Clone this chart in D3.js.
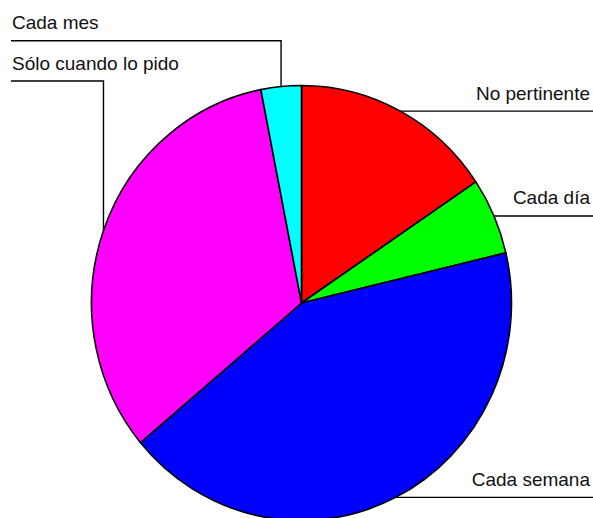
<!DOCTYPE html>
<html>
<head>
<meta charset="utf-8">
<script src="https://cdn.jsdelivr.net/npm/d3@7"></script>
<style>
  html, body { margin: 0; padding: 0; background: #fff; }
  svg { display: block; }
  text { font-family: "Liberation Sans", Arial, Helvetica, sans-serif; font-size: 19px; fill: #111; }
</style>
</head>
<body>
<svg id="chart" width="593" height="518"></svg>
<script>
const categories = ["No pertinente", "Cada día", "Cada semana", "Sólo cuando lo pido", "Cada mes"];
const values = [15.6, 5.7, 42.6, 33.0, 3.1];
const colors = ["#ff0000", "#00ff00", "#0000ff", "#ff00ff", "#00ffff"];

const W = 593, H = 518;
const cx = 301.5, cy = 303, rx = 210, ry = 217.5;

const svg = d3.select("#chart");
const data = categories.map((c, i) => ({ label: c, value: values[i], color: colors[i] }));

const pie = d3.pie().sort(null).value(d => d.value);
const arcs = pie(data);
const arc = d3.arc().innerRadius(0).outerRadius(rx);

const g = svg.append("g")
  .attr("transform", `translate(${cx},${cy}) scale(1,${ry / rx})`);

g.selectAll("path")
  .data(arcs)
  .enter().append("path")
  .attr("d", arc)
  .attr("fill", d => d.data.color)
  .attr("stroke", "#000")
  .attr("stroke-width", 1.6)
  .attr("stroke-linejoin", "round")
  .attr("vector-effect", "non-scaling-stroke");

// leader lines and labels
const rightX = W, leftX = 11, textRight = 590, textLeft = 12;
const leftLevels = { "Sólo cuando lo pido": 81, "Cada mes": 40.7 };

arcs.forEach(a => {
  const mid = (a.startAngle + a.endAngle) / 2;
  const px = cx + rx * Math.sin(mid);
  const py = cy - ry * Math.cos(mid);
  if (Math.sin(mid) >= 0 && !(a.data.label in leftLevels)) {
    svg.append("path")
      .attr("d", d3.line()([[px, py], [rightX, py]]))
      .attr("fill", "none").attr("stroke", "#000").attr("stroke-width", 1.4);
    svg.append("text")
      .attr("x", textRight).attr("y", py - 11.5)
      .attr("text-anchor", "end")
      .text(a.data.label);
  } else {
    const ly = leftLevels[a.data.label];
    svg.append("path")
      .attr("d", d3.line()([[px, py], [px, ly], [leftX, ly]]))
      .attr("fill", "none").attr("stroke", "#000").attr("stroke-width", 1.4);
    svg.append("text")
      .attr("x", textLeft).attr("y", ly - 11.5)
      .attr("text-anchor", "start")
      .text(a.data.label);
  }
});
</script>
</body>
</html>
